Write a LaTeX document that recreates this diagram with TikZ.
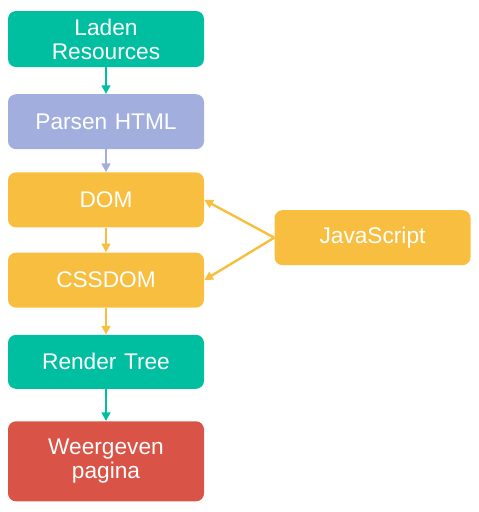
\documentclass[tikz,border=0pt]{standalone}
\usepackage{fontspec}
\setmainfont{Liberation Sans}
\usetikzlibrary{arrows.meta,positioning}
\definecolor{loadteal}{HTML}{00BFA0}
\definecolor{parselilac}{HTML}{A2AEDD}
\definecolor{domyellow}{HTML}{F7BE3F}
\definecolor{showred}{HTML}{D95447}

\begin{document}
\begin{tikzpicture}[
  stage/.style={rectangle, rounded corners=6pt, draw=none, text=white,
                minimum width=147pt, minimum height=41.25pt, text width=140pt,
                inner sep=0pt, align=center, font=\fontsize{17}{18}\selectfont},
  arrow/.style={-{Triangle[length=6.5pt,width=6.5pt]}, line width=1.8pt}
]
  \useasboundingbox (0,0) rectangle (359.25pt,-384pt);
  \node[stage, fill=loadteal, minimum height=42pt] (load) at (79.5pt,-29.25pt) {Laden\\Resources};
  \node[stage, fill=parselilac, below=20pt of load] (parse) {Parsen HTML};
  \node[stage, fill=domyellow, below=17pt of parse] (dom) {DOM};
  \node[stage, fill=domyellow, below=18.5pt of dom] (cssdom) {CSSDOM};
  \node[stage, fill=loadteal, below=20pt of cssdom, minimum height=40.5pt] (render) {Render Tree};
  \node[stage, fill=showred, below=24pt of render, minimum height=60pt] (show) {Weergeven\\pagina};
  \node[stage, fill=domyellow, right=52.5pt of dom.south east, yshift=-7.5pt] (js) {JavaScript};
  \draw[arrow, loadteal] (load) -- (parse);
  \draw[arrow, parselilac] (parse) -- (dom);
  \draw[arrow, domyellow] (dom) -- (cssdom);
  \draw[arrow, domyellow] (cssdom) -- (render);
  \draw[arrow, loadteal] (render) -- (show);
  \draw[arrow, domyellow] (js.west) -- (dom.east);
  \draw[arrow, domyellow] (js.west) -- (cssdom.east);
\end{tikzpicture}
\end{document}
